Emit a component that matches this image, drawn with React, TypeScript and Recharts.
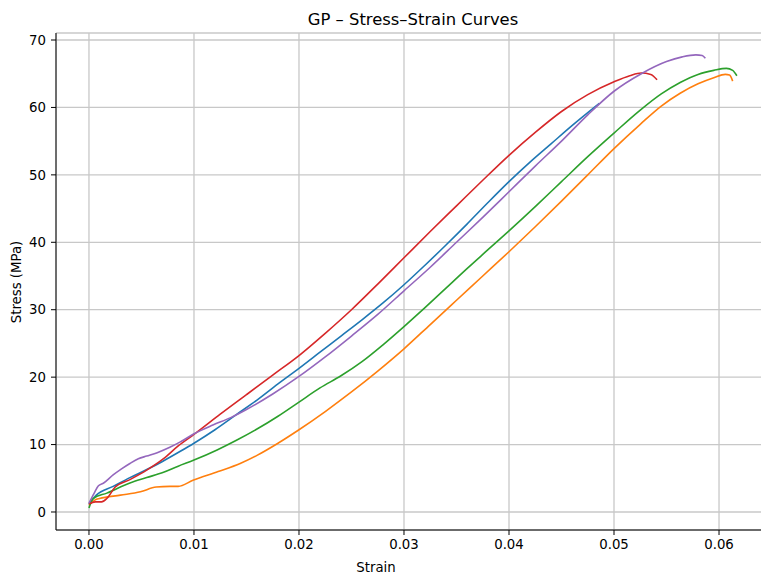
import React from "react";
import { LineChart, Line, XAxis, YAxis, CartesianGrid } from "recharts";

type Pt = { x: number; y: number };
const toPts = (arr: number[][]): Pt[] => arr.map(([x, y]) => ({ x, y }));

const blueSpecimen = [
  [0, 1.2], [0.0007, 2.5], [0.0023, 3.8], [0.0039, 5.1], [0.0055, 6.3], [0.007, 7.5],
  [0.0087, 9.0], [0.01, 10.2], [0.012, 12.2], [0.014, 14.4], [0.016, 16.6],
  [0.018, 19.0], [0.02, 21.3], [0.022, 23.7], [0.024, 26.1], [0.026, 28.5], [0.028, 31.0],
  [0.03, 33.7], [0.032, 36.6], [0.034, 39.6], [0.036, 42.7], [0.038, 45.9], [0.04, 49.0],
  [0.042, 51.9], [0.044, 54.6], [0.046, 57.3], [0.0486, 60.6],
];

const orangeSpecimen = [
  [0, 1.0], [0.0006, 1.8], [0.001, 2.0], [0.003, 2.5], [0.0049, 3.0], [0.0064, 3.7],
  [0.0077, 3.8], [0.0085, 3.8], [0.0099, 4.7], [0.0123, 6.0], [0.0144, 7.2], [0.016, 8.4],
  [0.018, 10.2], [0.02, 12.2], [0.0225, 14.9], [0.025, 17.8], [0.0275, 20.9], [0.03, 24.2],
  [0.0325, 27.8], [0.035, 31.4], [0.0375, 35.0], [0.04, 38.6], [0.0425, 42.3], [0.045, 46.1],
  [0.0475, 50.0], [0.05, 53.9], [0.0525, 57.5], [0.0545, 60.2], [0.0563, 62.1], [0.058, 63.5],
  [0.0595, 64.4], [0.0606, 64.9], [0.061, 64.8], [0.0613, 63.9],
];

const greenSpecimen = [
  [0, 0.6], [0.0004, 2.0], [0.0017, 2.8], [0.0039, 4.3], [0.0055, 5.1], [0.0071, 5.9],
  [0.0085, 6.8], [0.01, 7.7], [0.0122, 9.2], [0.014, 10.6], [0.016, 12.3], [0.018, 14.2],
  [0.02, 16.3], [0.022, 18.4], [0.024, 20.2], [0.026, 22.3], [0.028, 24.8], [0.03, 27.5],
  [0.032, 30.3], [0.034, 33.2], [0.036, 36.1], [0.038, 38.9], [0.04, 41.7], [0.0425, 45.3],
  [0.045, 49.0], [0.0475, 52.7], [0.05, 56.2], [0.0525, 59.6], [0.0545, 62.0], [0.0563, 63.7],
  [0.058, 64.9], [0.0595, 65.5], [0.0607, 65.8], [0.0613, 65.5], [0.0617, 64.7],
];

const redSpecimen = [
  [0, 1.2], [0.0006, 1.5], [0.0012, 1.5], [0.0017, 2.0], [0.0025, 3.7], [0.0039, 4.8],
  [0.0055, 6.2], [0.0071, 7.9], [0.0085, 9.8], [0.01, 11.5], [0.0125, 14.5], [0.015, 17.4],
  [0.0175, 20.3], [0.02, 23.2], [0.0225, 26.5], [0.025, 30.0], [0.0275, 33.8], [0.03, 37.7],
  [0.0325, 41.6], [0.035, 45.4], [0.0375, 49.2], [0.04, 52.9], [0.0425, 56.3], [0.045, 59.4],
  [0.0475, 61.9], [0.05, 63.8], [0.0515, 64.7], [0.0526, 65.1], [0.0535, 64.9], [0.0541, 64.1],
];

const purpleSpecimen = [
  [0, 1.3], [0.0005, 2.8], [0.0009, 3.9], [0.0014, 4.3], [0.0023, 5.5], [0.0031, 6.4],
  [0.0039, 7.2], [0.0047, 7.9], [0.0055, 8.3], [0.0065, 8.8], [0.0077, 9.6], [0.0087, 10.4],
  [0.01, 11.6], [0.0118, 12.9], [0.0135, 14.0], [0.015, 15.2], [0.0175, 17.5], [0.02, 20.1],
  [0.0225, 23.0], [0.025, 26.1], [0.0275, 29.3], [0.03, 32.8], [0.0325, 36.3], [0.035, 40.0],
  [0.0375, 43.7], [0.04, 47.5], [0.0425, 51.3], [0.045, 55.0], [0.0475, 58.9], [0.05, 62.4],
  [0.0526, 65.0], [0.055, 66.8], [0.0565, 67.5], [0.0578, 67.8], [0.0584, 67.7], [0.0587, 67.3],
];

const xTicks = [0, 0.01, 0.02, 0.03, 0.04, 0.05, 0.06];
const yTicks = [0, 10, 20, 30, 40, 50, 60, 70];

const series = [
  { name: "blue", color: "#1f77b4", data: blueSpecimen },
  { name: "orange", color: "#ff7f0e", data: orangeSpecimen },
  { name: "green", color: "#2ca02c", data: greenSpecimen },
  { name: "red", color: "#d62728", data: redSpecimen },
  { name: "purple", color: "#9467bd", data: purpleSpecimen },
];

const FONT = "'DejaVu Sans', sans-serif";
const W = 761;
const H = 568;

export default function App() {
  const tickStyle = { fontSize: 13.3, fill: "#000", fontFamily: FONT };
  return (
    <div style={{ position: "relative", width: W, height: H, fontFamily: FONT }}>
      <LineChart width={W} height={H} margin={{ top: 25, right: 0, bottom: 16, left: 0 }}>
        <CartesianGrid stroke="#c8c8c8" strokeWidth={1.3} />
        <XAxis
          type="number"
          dataKey="x"
          domain={[-0.00314, 0.06476]}
          allowDataOverflow
          ticks={xTicks}
          tickFormatter={(v: number) => v.toFixed(2)}
          tick={tickStyle}
          tickSize={5}
          tickMargin={5}
          height={30}
          axisLine={{ stroke: "#000", strokeWidth: 1 }}
          tickLine={{ stroke: "#000" }}
        />
        <XAxis
          xAxisId="top"
          orientation="top"
          type="number"
          domain={[-0.00314, 0.06476]}
          height={0}
          tick={false}
          tickLine={false}
          axisLine={{ stroke: "#000", strokeWidth: 1 }}
        />
        <YAxis
          type="number"
          domain={[-2.67, 71.04]}
          allowDataOverflow
          ticks={yTicks}
          tick={tickStyle}
          tickSize={5}
          tickMargin={5}
          width={48}
          axisLine={{ stroke: "#000", strokeWidth: 1 }}
          tickLine={{ stroke: "#000" }}
        />
        {series.map((s) => (
          <Line
            key={s.name}
            data={toPts(s.data)}
            dataKey="y"
            type="monotone"
            stroke={s.color}
            strokeWidth={1.6}
            dot={false}
            activeDot={false}
            isAnimationActive={false}
          />
        ))}
      </LineChart>
      <svg
        width={W}
        height={H}
        style={{ position: "absolute", left: 0, top: 0, pointerEvents: "none" }}
      >
        <text x={405} y={17} textAnchor="middle" fontSize={16.4} fontFamily={FONT} fill="#000">
          GP – Stress–Strain Curves
        </text>
        <text x={368} y={563.5} textAnchor="middle" fontSize={13.3} fontFamily={FONT} fill="#000">
          Strain
        </text>
        <text
          transform="translate(12.5,274) rotate(-90)"
          textAnchor="middle"
          fontSize={13.3}
          fontFamily={FONT}
          fill="#000"
        >
          Stress (MPa)
        </text>
      </svg>
    </div>
  );
}
